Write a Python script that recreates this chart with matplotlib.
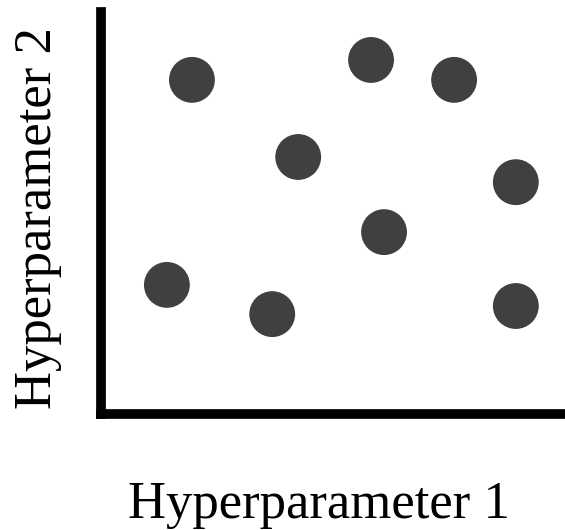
import matplotlib.pyplot as plt

# Point positions (arbitrary 0-10 scale)
hp1 = [1.96, 5.82, 7.61, 4.25, 8.94, 6.10, 1.42, 3.69, 8.94]
hp2 = [8.23, 8.72, 8.23, 6.33, 5.71, 4.48, 3.18, 2.46, 2.66]

plt.rcParams['font.family'] = ['Liberation Serif', 'DejaVu Serif']

fig = plt.figure(figsize=(5.65, 5.30), dpi=100)
ax = fig.add_axes([101 / 565, (530 - 414) / 530, 464 / 565, 402 / 530])

ax.scatter(hp1, hp2, s=1090, color='#404040', edgecolors='none', zorder=3)

ax.set_xlim(0, 10)
ax.set_ylim(0, 10 * 402 / 406)
ax.set_xticks([])
ax.set_yticks([])
for side in ['top', 'right']:
    ax.spines[side].set_visible(False)
for side in ['left', 'bottom']:
    ax.spines[side].set_linewidth(7)
    ax.spines[side].set_color('black')
    ax.spines[side].set_capstyle('projecting')

fig.text(319 / 565, 1 - 505 / 530, 'Hyperparameter 1', fontsize=38,
         ha='center', va='center')
fig.text(38 / 565, 1 - 218 / 530, 'Hyperparameter 2', fontsize=38,
         ha='center', va='center', rotation=90)

fig.savefig('out.png', dpi=100)
